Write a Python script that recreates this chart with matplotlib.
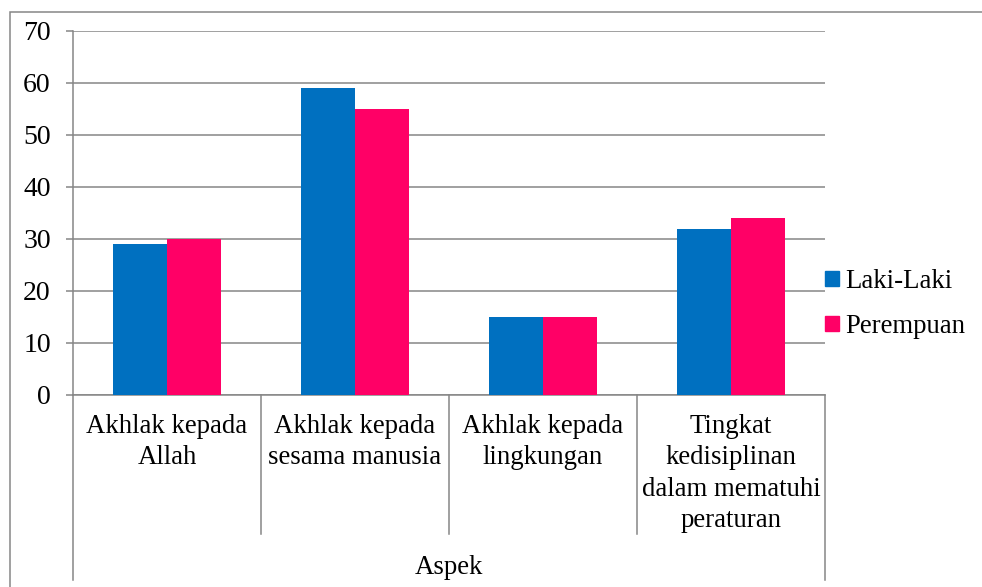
import matplotlib
matplotlib.use("Agg")
import matplotlib.pyplot as plt
import matplotlib.transforms as mtransforms
from matplotlib.patches import Rectangle, Patch
import numpy as np

categories = ["Akhlak kepada\nAllah", "Akhlak kepada\nsesama manusia",
              "Akhlak kepada\nlingkungan", "Tingkat\nkedisiplinan\ndalam mematuhi\nperaturan"]
laki = [29, 59, 15, 32]
perempuan = [30, 55, 15, 34]
series_names = ["Laki-Laki", "Perempuan"]
outer_label = "Aspek"
yticks = [0, 10, 20, 30, 40, 50, 60, 70]

plt.rcParams['font.family'] = ['Liberation Serif', 'DejaVu Serif']
FS = 19.3
GRAY = "#868686"
BLUE = "#0070C0"
PINK = "#FF0066"

W, H = 982, 587
fig = plt.figure(figsize=(W / 100, H / 100), dpi=100)
L, R, T, B = 73, 825, 31, 395
ax = fig.add_axes([L / W, (H - B) / H, (R - L) / W, (B - T) / H])

x = np.arange(len(categories))
bw = 0.285
ax.bar(x - bw / 2, laki, width=bw, color=BLUE, label=series_names[0], zorder=3)
ax.bar(x + bw / 2, perempuan, width=bw, color=PINK, label=series_names[1], zorder=3)

ax.set_xlim(-0.5, len(categories) - 0.5)
ax.set_ylim(0, 70)
ax.set_yticks(yticks)
ax.set_yticklabels([str(v) for v in yticks], fontsize=FS + 0.7)
ax.yaxis.grid(True, color=GRAY, linewidth=1.1, zorder=0)
ax.set_axisbelow(True)
ax.tick_params(axis='y', length=5, width=1.1, color=GRAY, pad=11, direction='out')
ax.set_xticks([])
for s in ['top', 'right']:
    ax.spines[s].set_visible(False)
for s in ['left', 'bottom']:
    ax.spines[s].set_color(GRAY)
    ax.spines[s].set_linewidth(1.1)

trans = mtransforms.blended_transform_factory(ax.transData, ax.transAxes)
ah = B - T
y_inner = -(534 - B) / ah
y_outer = -(580 - B) / ah
bounds = np.arange(len(categories) + 1) - 0.5
for i, b in enumerate(bounds):
    yb = y_outer if i in (0, len(bounds) - 1) else y_inner
    ax.plot([b, b], [0, yb], transform=trans, color=GRAY, lw=1.1, clip_on=False)

y_lab = -(414 - B) / ah
for xi, c in zip(x, categories):
    ax.text(xi, y_lab, c, transform=trans, ha='center', va='top', fontsize=FS,
            multialignment='center', linespacing=1.33)

ax.text((len(categories) - 1) / 2, -(555 - B) / ah, outer_label, transform=trans,
        ha='center', va='top', fontsize=FS)

handles = [Patch(color=BLUE), Patch(color=PINK)]
leg = ax.legend(handles, series_names, loc='center left',
                bbox_to_anchor=(1.0, (B - 304) / ah), frameon=False, fontsize=FS,
                handlelength=0.52, handleheight=0.52, handletextpad=0.22,
                labelspacing=0.74, borderpad=0, borderaxespad=0)

fig.add_artist(Rectangle((10 / W, -0.2), 1.2, (H - 12) / H + 0.2,
                         transform=fig.transFigure, fill=False,
                         edgecolor=GRAY, lw=1.1))

fig.savefig("out.png", dpi=100)
